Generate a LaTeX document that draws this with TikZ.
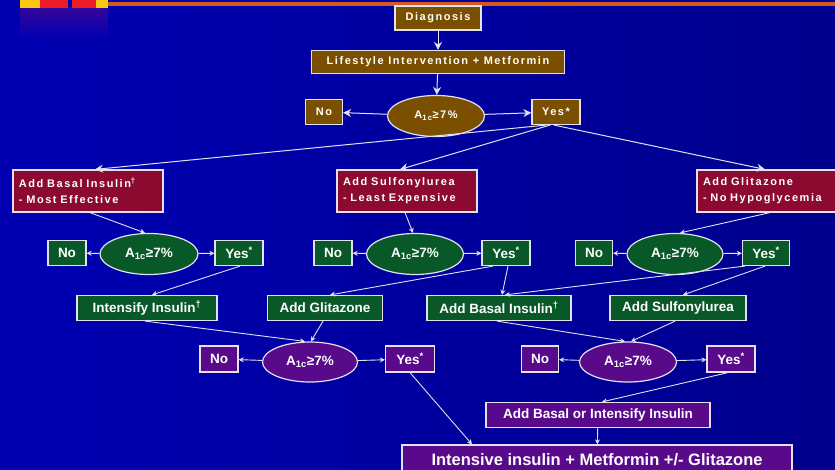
\documentclass[tikz,border=0pt]{standalone}
\usepackage{fontspec}
\setmainfont{Liberation Sans}
\usetikzlibrary{arrows.meta,shapes.geometric,calc}
\definecolor{bgL}{RGB}{0,0,178}
\definecolor{bgR}{RGB}{0,0,140}
\definecolor{brownbox}{RGB}{122,80,0}
\definecolor{redbox}{RGB}{140,10,48}
\definecolor{greenbox}{RGB}{8,88,40}
\definecolor{purplebox}{RGB}{88,10,138}
\definecolor{edge}{RGB}{225,225,240}
\definecolor{topline}{RGB}{210,90,30}
\definecolor{topyellow}{RGB}{250,200,20}
\definecolor{topred}{RGB}{235,30,40}
\newfontfamily\spacedfont[LetterSpace=14]{Liberation Sans}
\tikzset{
  box/.style={draw=edge,line width=1.2pt,text=white,inner sep=0pt,align=center},
  bbox/.style={box,fill=brownbox,font=\spacedfont\bfseries\fontsize{11}{12}\selectfont},
  rbox/.style={box,fill=redbox,font=\spacedfont\bfseries\fontsize{11}{16}\selectfont,align=left},
  gbox/.style={box,fill=greenbox,font=\bfseries\fontsize{13.5}{15}\selectfont},
  pbox/.style={box,fill=purplebox,font=\bfseries\fontsize{13.5}{15}\selectfont},
  oval/.style={ellipse,draw=edge,line width=1.2pt,text=white,inner sep=0pt},
  ovfont/.style={font=\bfseries\fontsize{13.5}{15}\selectfont},
  conn/.style={draw=edge,line width=0.9pt,-{Stealth[length=5pt,width=5pt]}},
  bigconn/.style={draw=edge,line width=1pt,-{Stealth[length=8pt,width=8pt]}},
}
\newcommand{\aone}{A\textsubscript{1c}≥7\%}
\begin{document}
\begin{tikzpicture}[x=1pt,y=-1pt]
\useasboundingbox (0,0) rectangle (835,470);
\shade[left color=bgL,right color=bgR] (0,0) rectangle (835,470);
% top decoration
\shade[top color=purplebox!60!bgL,bottom color=bgL] (20,8) rectangle (108,38);
\fill[topyellow] (20,0) rectangle (40,8);
\fill[topred] (40,0) rectangle (68,8);
\fill[topred] (72,0) rectangle (96,8);
\fill[topyellow] (96,0) rectangle (108,8);
\fill[topline] (108,2) rectangle (835,6);

% level 0
\node[bbox,minimum width=86,minimum height=24] (diag) at (438,18) {Diagnosis};
\node[bbox,minimum width=253,minimum height=23] (life) at (438,62) {Lifestyle Intervention + Metformin};
\node[oval,fill=brownbox,minimum width=97,minimum height=41,font=\spacedfont\bfseries\fontsize{11}{12}\selectfont] (ovB) at (436,116) {\aone};
\node[bbox,minimum width=37,minimum height=25] (noT) at (324,112) {No};
\node[bbox,minimum width=48,minimum height=25] (yesT) at (556,112) {Yes*};

% level 1
\node[rbox,minimum width=150,minimum height=42,text width=138] (basal) at (88,191) {Add Basal Insulin\textsuperscript{†}\\- Most Effective};
\node[rbox,minimum width=140,minimum height=42,text width=128] (sulf) at (407,191) {Add Sulfonylurea\\- Least Expensive};
\node[rbox,minimum width=142,minimum height=42,text width=130] (glit) at (768,191) {Add Glitazone\\- No Hypoglycemia};

% level 2
\node[oval,fill=greenbox,minimum width=98,minimum height=41,ovfont] (ov1) at (149,254) {\aone};
\node[gbox,minimum width=38,minimum height=25] (no1) at (67,253) {No};
\node[gbox,minimum width=48,minimum height=25] (yes1) at (239,253) {Yes\textsuperscript{*}};
\node[oval,fill=greenbox,minimum width=97,minimum height=41,ovfont] (ov2) at (415,254) {\aone};
\node[gbox,minimum width=38,minimum height=25] (no2) at (333,253) {No};
\node[gbox,minimum width=48,minimum height=25] (yes2) at (506,253) {Yes\textsuperscript{*}};
\node[oval,fill=greenbox,minimum width=96,minimum height=41,ovfont] (ov3) at (675,254) {\aone};
\node[gbox,minimum width=37,minimum height=25] (no3) at (594,253) {No};
\node[gbox,minimum width=47,minimum height=25] (yes3) at (766,253) {Yes\textsuperscript{*}};

% level 3
\node[gbox,minimum width=140,minimum height=25] (intens) at (147,308) {Intensify Insulin\textsuperscript{†}};
\node[gbox,minimum width=115,minimum height=25] (glitG) at (325,308) {Add Glitazone};
\node[gbox,minimum width=144,minimum height=25] (basalG) at (499,308) {Add Basal Insulin\textsuperscript{†}};
\node[gbox,minimum width=136,minimum height=25] (sulfG) at (678,308) {Add Sulfonylurea};

% level 4
\node[oval,fill=purplebox,minimum width=95,minimum height=40,ovfont] (ov4) at (310,362) {\aone};
\node[pbox,minimum width=38,minimum height=26] (no4) at (219,359) {No};
\node[pbox,minimum width=49,minimum height=26] (yes4) at (410,359) {Yes\textsuperscript{*}};
\node[oval,fill=purplebox,minimum width=97,minimum height=40,ovfont] (ov5) at (628,362) {\aone};
\node[pbox,minimum width=37,minimum height=26] (no5) at (540,359) {No};
\node[pbox,minimum width=48,minimum height=26] (yes5) at (731,359) {Yes\textsuperscript{*}};

% level 5
\node[pbox,minimum width=224,minimum height=25] (addBI) at (598,415) {Add Basal or Intensify Insulin};
\node[pbox,minimum width=390,minimum height=30,font=\bfseries\fontsize{16.5}{18}\selectfont] (final) at (597,460) {Intensive insulin + Metformin +/- Glitazone};

% connectors top
\draw[bigconn] (diag) -- (life);
\draw[bigconn] (life) -- (ovB);
\draw[bigconn] (ovB) -- (noT);
\draw[bigconn] (ovB) -- (yesT);
\draw[bigconn] ($(yesT.south)+(-10,0)$) -- ($(basal.north)+(7,0)$);
\draw[bigconn] ($(yesT.south)+(-6,0)$) -- ($(sulf.north)+(-7,0)$);
\draw[bigconn] ($(yesT.south)+(-2,0)$) -- ($(glit.north)+(-3,0)$);
\draw[conn] ($(basal.south)+(2,0)$) -- ($(ov1.north)+(-4,0)$);
\draw[conn] ($(sulf.south)+(-2,0)$) -- ($(ov2.north)+(-2,0)$);
\draw[conn] ($(glit.south)+(2,0)$) -- ($(ov3.north)+(5,0)$);

% level 2 sides
\foreach \o/\n/\y in {ov1/no1/yes1,ov2/no2/yes2,ov3/no3/yes3,ov4/no4/yes4,ov5/no5/yes5}{
  \draw[conn] (\o) -- (\n);
  \draw[conn] (\o) -- (\y);
}

% level 2 -> 3
\draw[conn] ($(yes1.south)+(1,0)$) -- ($(intens.north)+(5,0)$);
\draw[conn] ($(yes2.south)+(-13,0)$) -- ($(glitG.north)+(5,0)$);
\draw[conn] ($(yes2.south)+(2,0)$) -- ($(basalG.north)+(3,0)$);
\draw[conn] ($(yes3.south)+(-21,0)$) -- ($(basalG.north)+(6,0)$);
\draw[conn] ($(yes3.south)+(-1,0)$) -- ($(sulfG.north)+(5,0)$);

% level 3 -> 4
\draw[conn] ($(intens.south)+(-2,0)$) -- ($(ov4.north)+(-5,0)$);
\draw[conn] ($(glitG.south)+(-2,0)$) -- ($(ov4.north)+(1,0)$);
\draw[conn] ($(basalG.south)+(-2,0)$) -- ($(ov5.north)+(-3,0)$);
\draw[conn] ($(sulfG.south)+(-3,0)$) -- ($(ov5.north)+(3,0)$);

% level 4 -> 5
\draw[conn] (yes4.south) -- ($(final.north)+(-125,0)$);
\draw[conn] ($(yes5.south)+(-3,0)$) -- ($(addBI.north)+(4,0)$);
\draw[conn] (addBI) -- (final);
\end{tikzpicture}
\end{document}
